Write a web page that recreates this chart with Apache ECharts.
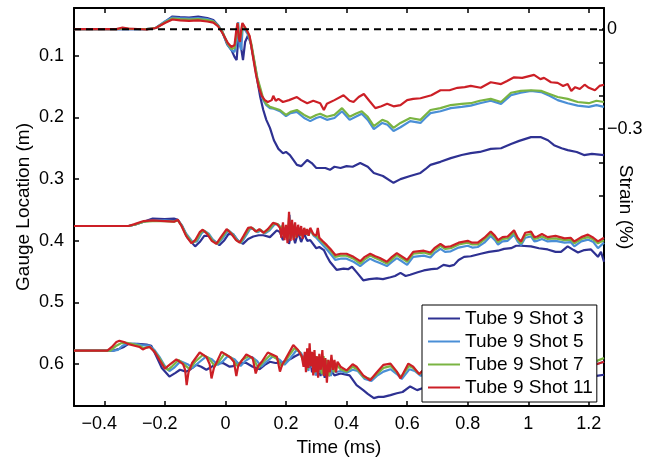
<!DOCTYPE html>
<html>
<head>
<meta charset="utf-8">
<script src="https://cdn.jsdelivr.net/npm/echarts@6/dist/echarts.min.js"></script>
<style>html,body{margin:0;padding:0;background:#fff;}#c{width:661px;height:463px;}</style>
</head>
<body>
<div id="c"></div>
<script>
// ---- data: [time (ms), gauge location (m)] ----
const shotNames = ['Tube 9 Shot 3', 'Tube 9 Shot 5', 'Tube 9 Shot 7', 'Tube 9 Shot 11'];
const shotColors = ['#2e3192', '#4a8fd6', '#7ab442', '#cc1f26'];
const xTicks = [-0.4, -0.2, 0, 0.2, 0.4, 0.6, 0.8, 1.0, 1.2];
const yTicks = [0.1, 0.2, 0.3, 0.4, 0.5, 0.6];
const strainTicks = [0, -0.1, -0.2, -0.3, -0.4, -0.5];
const strainLabels = [0, -0.3];
const zeroStrainLine = [[-0.5, 0.0572], [1.25, 0.0572]];

// Shot 3 (dark blue)
const shot3_g1 = [[-0.5,0.057],[-0.26,0.057],[-0.23,0.0551],[-0.2,0.0454],[-0.175,0.0365],[-0.15,0.0373],[-0.12,0.0381],[-0.09,0.0368],[-0.06,0.0389],[-0.04,0.0421],[-0.025,0.0502],[-0.01,0.0616],[0.005,0.081],[0.02,0.0908],[0.03,0.102],[0.037,0.107],[0.042,0.0746],[0.048,0.0632],[0.053,0.0908],[0.058,0.107],[0.065,0.0778],[0.075,0.0665],[0.085,0.0827],[0.095,0.110],[0.105,0.139],[0.115,0.167],[0.125,0.188],[0.135,0.204],[0.147,0.217],[0.16,0.237],[0.175,0.251],[0.19,0.258],[0.2,0.256],[0.213,0.261],[0.236,0.277],[0.25,0.279],[0.27,0.269],[0.285,0.274],[0.3,0.282],[0.33,0.282],[0.345,0.285],[0.36,0.280],[0.38,0.282],[0.4,0.279],[0.42,0.280],[0.445,0.274],[0.47,0.280],[0.49,0.290],[0.52,0.295],[0.555,0.306],[0.578,0.300],[0.61,0.295],[0.644,0.290],[0.66,0.284],[0.677,0.277],[0.71,0.272],[0.744,0.266],[0.78,0.261],[0.81,0.258],[0.84,0.256],[0.876,0.251],[0.91,0.250],[0.943,0.243],[0.97,0.238],[1.009,0.232],[1.042,0.232],[1.065,0.237],[1.085,0.245],[1.11,0.250],[1.13,0.253],[1.16,0.256],[1.184,0.261],[1.21,0.259],[1.25,0.261]];
const shot3_g2 = [[-0.5,0.376],[-0.32,0.376],[-0.3,0.374],[-0.27,0.369],[-0.24,0.364],[-0.2,0.365],[-0.17,0.364],[-0.157,0.366],[-0.143,0.376],[-0.125,0.395],[-0.1,0.409],[-0.085,0.402],[-0.07,0.392],[-0.055,0.392],[-0.04,0.399],[-0.02,0.407],[-0.005,0.400],[0.01,0.389],[0.025,0.389],[0.04,0.399],[0.058,0.405],[0.075,0.397],[0.092,0.393],[0.11,0.391],[0.125,0.391],[0.147,0.394],[0.17,0.383],[0.18,0.386],[0.19,0.399],[0.2,0.381],[0.21,0.405],[0.22,0.383],[0.23,0.404],[0.24,0.386],[0.25,0.402],[0.26,0.389],[0.27,0.400],[0.28,0.399],[0.3,0.412],[0.31,0.410],[0.325,0.415],[0.335,0.425],[0.345,0.434],[0.367,0.447],[0.39,0.445],[0.405,0.446],[0.418,0.442],[0.435,0.452],[0.455,0.464],[0.475,0.462],[0.5,0.461],[0.52,0.462],[0.545,0.459],[0.56,0.457],[0.578,0.452],[0.595,0.457],[0.61,0.455],[0.635,0.451],[0.655,0.448],[0.68,0.446],[0.7,0.445],[0.72,0.439],[0.74,0.441],[0.755,0.439],[0.77,0.431],[0.788,0.426],[0.81,0.425],[0.843,0.421],[0.87,0.418],[0.9,0.416],[0.92,0.413],[0.943,0.412],[0.96,0.408],[0.976,0.408],[1.009,0.409],[1.035,0.412],[1.064,0.414],[1.09,0.418],[1.108,0.418],[1.13,0.409],[1.15,0.415],[1.164,0.419],[1.185,0.415],[1.207,0.414],[1.23,0.426],[1.24,0.418],[1.25,0.434]];
const shot3_g3 = [[-0.5,0.578],[-0.37,0.578],[-0.35,0.575],[-0.335,0.572],[-0.32,0.567],[-0.29,0.567],[-0.26,0.568],[-0.245,0.570],[-0.23,0.585],[-0.21,0.606],[-0.185,0.620],[-0.165,0.614],[-0.15,0.609],[-0.13,0.612],[-0.115,0.608],[-0.096,0.601],[-0.08,0.604],[-0.063,0.609],[-0.045,0.604],[-0.03,0.599],[-0.008,0.598],[0.014,0.604],[0.025,0.603],[0.036,0.599],[0.055,0.598],[0.069,0.598],[0.09,0.604],[0.113,0.608],[0.13,0.601],[0.147,0.596],[0.165,0.598],[0.18,0.598],[0.2,0.595],[0.213,0.592],[0.23,0.587],[0.246,0.583],[0.26,0.590],[0.268,0.596],[0.275,0.606],[0.28,0.593],[0.286,0.613],[0.292,0.596],[0.3,0.618],[0.306,0.600],[0.314,0.619],[0.32,0.603],[0.328,0.622],[0.335,0.606],[0.342,0.619],[0.35,0.611],[0.36,0.618],[0.38,0.615],[0.41,0.618],[0.433,0.634],[0.455,0.642],[0.47,0.648],[0.49,0.655],[0.505,0.653],[0.522,0.653],[0.545,0.650],[0.566,0.647],[0.585,0.645],[0.61,0.636],[0.633,0.642],[0.65,0.639],[0.7,0.634],[0.75,0.635],[0.8,0.629],[0.85,0.630],[0.9,0.626],[0.95,0.627],[1.0,0.621],[1.05,0.622],[1.1,0.619],[1.15,0.621],[1.2,0.616],[1.225,0.619],[1.25,0.617]];

// Shot 5 (light blue)
const shot5_g1 = [[-0.5,0.057],[-0.26,0.057],[-0.23,0.0551],[-0.2,0.0446],[-0.175,0.0381],[-0.15,0.0389],[-0.12,0.0397],[-0.09,0.0389],[-0.06,0.0405],[-0.04,0.0437],[-0.025,0.0502],[-0.01,0.0616],[0.008,0.0827],[0.02,0.0908],[0.03,0.094],[0.038,0.0746],[0.042,0.0454],[0.047,0.0827],[0.052,0.0908],[0.057,0.0551],[0.065,0.0583],[0.075,0.0665],[0.085,0.0827],[0.095,0.110],[0.105,0.136],[0.115,0.157],[0.125,0.172],[0.135,0.180],[0.147,0.185],[0.16,0.186],[0.18,0.190],[0.2,0.198],[0.215,0.193],[0.236,0.191],[0.26,0.201],[0.28,0.206],[0.3,0.201],[0.313,0.199],[0.335,0.204],[0.36,0.201],[0.385,0.190],[0.41,0.204],[0.43,0.199],[0.45,0.194],[0.47,0.204],[0.49,0.219],[0.518,0.209],[0.535,0.212],[0.555,0.222],[0.578,0.216],[0.61,0.206],[0.644,0.209],[0.66,0.201],[0.677,0.193],[0.71,0.190],[0.744,0.185],[0.78,0.183],[0.81,0.181],[0.84,0.177],[0.876,0.173],[0.91,0.178],[0.943,0.164],[0.975,0.160],[1.009,0.157],[1.042,0.159],[1.07,0.165],[1.097,0.172],[1.13,0.177],[1.163,0.181],[1.2,0.183],[1.225,0.180],[1.25,0.183]];
const shot5_g2 = [[-0.5,0.376],[-0.32,0.376],[-0.3,0.374],[-0.27,0.369],[-0.24,0.367],[-0.2,0.367],[-0.17,0.368],[-0.157,0.367],[-0.145,0.374],[-0.13,0.388],[-0.108,0.402],[-0.094,0.401],[-0.079,0.388],[-0.069,0.384],[-0.054,0.389],[-0.039,0.400],[-0.024,0.405],[-0.009,0.396],[0.01,0.383],[0.025,0.389],[0.04,0.399],[0.053,0.403],[0.066,0.393],[0.081,0.381],[0.091,0.380],[0.106,0.386],[0.118,0.383],[0.131,0.388],[0.146,0.383],[0.163,0.373],[0.176,0.374],[0.186,0.381],[0.19,0.377],[0.196,0.394],[0.202,0.379],[0.207,0.396],[0.212,0.358],[0.217,0.395],[0.222,0.374],[0.232,0.393],[0.242,0.380],[0.252,0.391],[0.262,0.382],[0.272,0.391],[0.282,0.384],[0.292,0.392],[0.3,0.395],[0.32,0.406],[0.335,0.414],[0.35,0.423],[0.363,0.431],[0.38,0.429],[0.4,0.429],[0.423,0.434],[0.445,0.441],[0.46,0.435],[0.478,0.429],[0.495,0.433],[0.51,0.436],[0.533,0.441],[0.55,0.434],[0.566,0.428],[0.585,0.434],[0.6,0.439],[0.62,0.426],[0.655,0.424],[0.677,0.427],[0.69,0.420],[0.71,0.413],[0.725,0.418],[0.744,0.417],[0.77,0.411],[0.8,0.408],[0.815,0.411],[0.833,0.410],[0.855,0.403],[0.876,0.392],[0.89,0.399],[0.9,0.406],[0.915,0.401],[0.932,0.400],[0.953,0.390],[0.965,0.401],[0.976,0.407],[0.99,0.395],[1.009,0.393],[1.02,0.401],[1.03,0.400],[1.045,0.397],[1.064,0.401],[1.09,0.400],[1.12,0.403],[1.14,0.402],[1.152,0.409],[1.175,0.401],[1.197,0.398],[1.215,0.402],[1.23,0.412],[1.25,0.403]];
const shot5_g3 = [[-0.5,0.578],[-0.37,0.578],[-0.355,0.577],[-0.34,0.570],[-0.325,0.567],[-0.3,0.567],[-0.275,0.569],[-0.25,0.570],[-0.234,0.577],[-0.218,0.588],[-0.2,0.603],[-0.185,0.611],[-0.17,0.606],[-0.148,0.595],[-0.125,0.600],[-0.108,0.606],[-0.09,0.598],[-0.065,0.588],[-0.045,0.592],[-0.025,0.601],[-0.01,0.596],[0.007,0.587],[0.03,0.592],[0.05,0.603],[0.065,0.595],[0.087,0.588],[0.105,0.595],[0.118,0.604],[0.135,0.596],[0.158,0.587],[0.18,0.593],[0.195,0.601],[0.21,0.593],[0.235,0.577],[0.25,0.582],[0.262,0.596],[0.268,0.587],[0.274,0.611],[0.28,0.580],[0.286,0.606],[0.292,0.587],[0.298,0.618],[0.304,0.590],[0.31,0.614],[0.316,0.593],[0.322,0.618],[0.328,0.593],[0.334,0.614],[0.34,0.596],[0.348,0.619],[0.356,0.600],[0.364,0.613],[0.38,0.611],[0.4,0.614],[0.42,0.609],[0.437,0.611],[0.46,0.624],[0.482,0.627],[0.5,0.619],[0.522,0.612],[0.545,0.608],[0.566,0.616],[0.582,0.624],[0.608,0.608],[0.625,0.611],[0.645,0.619],[0.66,0.613],[0.7,0.604],[0.75,0.608],[0.8,0.601],[0.85,0.604],[0.9,0.598],[0.95,0.601],[1.0,0.595],[1.05,0.598],[1.1,0.595],[1.15,0.598],[1.2,0.595],[1.225,0.600],[1.25,0.596]];

// Shot 7 (green)
const shot7_g1 = [[-0.5,0.057],[-0.36,0.057],[-0.34,0.0559],[-0.3,0.0567],[-0.26,0.057],[-0.23,0.0551],[-0.2,0.0462],[-0.175,0.0397],[-0.15,0.0405],[-0.12,0.0413],[-0.09,0.0405],[-0.06,0.0421],[-0.04,0.0446],[-0.025,0.0511],[-0.01,0.0616],[0.008,0.081],[0.02,0.0891],[0.03,0.0875],[0.037,0.0648],[0.041,0.047],[0.046,0.0746],[0.052,0.0665],[0.057,0.0486],[0.065,0.0551],[0.075,0.0632],[0.085,0.0794],[0.095,0.107],[0.105,0.135],[0.115,0.152],[0.125,0.170],[0.135,0.178],[0.147,0.183],[0.16,0.185],[0.18,0.188],[0.2,0.196],[0.215,0.191],[0.236,0.188],[0.26,0.196],[0.28,0.201],[0.3,0.196],[0.313,0.194],[0.335,0.199],[0.36,0.196],[0.385,0.185],[0.41,0.199],[0.43,0.194],[0.45,0.190],[0.47,0.199],[0.49,0.214],[0.518,0.204],[0.535,0.207],[0.555,0.217],[0.578,0.209],[0.61,0.201],[0.644,0.204],[0.66,0.196],[0.677,0.188],[0.71,0.185],[0.744,0.180],[0.78,0.178],[0.81,0.177],[0.84,0.173],[0.876,0.170],[0.91,0.175],[0.943,0.160],[0.975,0.157],[1.009,0.156],[1.042,0.157],[1.07,0.162],[1.097,0.167],[1.13,0.170],[1.163,0.175],[1.2,0.177],[1.225,0.173],[1.25,0.175]];
const shot7_g2 = [[-0.5,0.376],[-0.32,0.376],[-0.3,0.374],[-0.27,0.369],[-0.24,0.368],[-0.2,0.368],[-0.17,0.369],[-0.157,0.367],[-0.145,0.375],[-0.13,0.390],[-0.11,0.403],[-0.097,0.400],[-0.082,0.387],[-0.072,0.383],[-0.057,0.389],[-0.042,0.400],[-0.027,0.405],[-0.012,0.395],[0.007,0.382],[0.022,0.389],[0.037,0.399],[0.05,0.403],[0.063,0.392],[0.078,0.380],[0.088,0.379],[0.103,0.385],[0.115,0.382],[0.128,0.387],[0.143,0.382],[0.16,0.372],[0.173,0.373],[0.183,0.380],[0.19,0.374],[0.195,0.395],[0.2,0.378],[0.205,0.398],[0.21,0.362],[0.215,0.397],[0.22,0.372],[0.23,0.394],[0.24,0.378],[0.25,0.392],[0.26,0.380],[0.27,0.390],[0.28,0.382],[0.29,0.390],[0.3,0.392],[0.32,0.402],[0.335,0.409],[0.35,0.418],[0.363,0.426],[0.38,0.424],[0.4,0.424],[0.423,0.429],[0.445,0.437],[0.46,0.430],[0.478,0.424],[0.495,0.428],[0.51,0.431],[0.533,0.437],[0.55,0.430],[0.566,0.423],[0.585,0.429],[0.6,0.434],[0.62,0.421],[0.655,0.419],[0.677,0.422],[0.69,0.415],[0.71,0.408],[0.725,0.413],[0.744,0.412],[0.77,0.406],[0.8,0.403],[0.815,0.406],[0.833,0.406],[0.855,0.398],[0.876,0.388],[0.89,0.395],[0.9,0.402],[0.915,0.397],[0.932,0.396],[0.953,0.386],[0.965,0.398],[0.976,0.404],[0.99,0.391],[1.009,0.389],[1.02,0.397],[1.03,0.396],[1.045,0.393],[1.064,0.397],[1.09,0.396],[1.12,0.399],[1.14,0.398],[1.152,0.404],[1.175,0.397],[1.197,0.394],[1.215,0.398],[1.23,0.404],[1.25,0.399]];
const shot7_g3 = [[-0.5,0.578],[-0.38,0.578],[-0.36,0.570],[-0.345,0.566],[-0.33,0.565],[-0.31,0.567],[-0.284,0.570],[-0.27,0.574],[-0.25,0.572],[-0.234,0.579],[-0.218,0.590],[-0.2,0.605],[-0.19,0.609],[-0.175,0.603],[-0.155,0.593],[-0.135,0.601],[-0.118,0.608],[-0.1,0.596],[-0.075,0.585],[-0.055,0.590],[-0.035,0.603],[-0.02,0.595],[-0.003,0.583],[0.02,0.590],[0.04,0.603],[0.055,0.593],[0.077,0.587],[0.095,0.593],[0.108,0.606],[0.125,0.596],[0.148,0.585],[0.172,0.592],[0.185,0.603],[0.2,0.593],[0.228,0.574],[0.245,0.580],[0.258,0.596],[0.264,0.583],[0.27,0.609],[0.276,0.577],[0.282,0.603],[0.288,0.583],[0.294,0.614],[0.3,0.587],[0.306,0.613],[0.312,0.590],[0.318,0.616],[0.324,0.587],[0.33,0.613],[0.336,0.593],[0.342,0.619],[0.35,0.596],[0.358,0.613],[0.366,0.600],[0.38,0.608],[0.4,0.612],[0.42,0.604],[0.435,0.608],[0.457,0.621],[0.48,0.624],[0.5,0.616],[0.522,0.606],[0.545,0.603],[0.566,0.613],[0.58,0.621],[0.606,0.603],[0.62,0.606],[0.64,0.616],[0.66,0.608],[0.7,0.600],[0.75,0.604],[0.8,0.596],[0.85,0.601],[0.9,0.593],[0.95,0.598],[1.0,0.590],[1.05,0.595],[1.1,0.590],[1.15,0.595],[1.2,0.590],[1.225,0.595],[1.25,0.590]];

// Shot 11 (red)
const shot11_g1 = [[-0.5,0.057],[-0.36,0.057],[-0.34,0.0543],[-0.32,0.0559],[-0.29,0.0567],[-0.26,0.0575],[-0.23,0.0551],[-0.2,0.047],[-0.175,0.0413],[-0.15,0.0429],[-0.12,0.0437],[-0.09,0.0429],[-0.06,0.0446],[-0.04,0.0465],[-0.025,0.0519],[-0.01,0.0632],[0.008,0.0794],[0.02,0.0859],[0.03,0.0827],[0.036,0.0583],[0.04,0.047],[0.044,0.0713],[0.048,0.0778],[0.052,0.0583],[0.056,0.047],[0.06,0.0502],[0.07,0.0583],[0.08,0.0681],[0.09,0.0989],[0.1,0.128],[0.11,0.151],[0.12,0.165],[0.13,0.172],[0.14,0.175],[0.153,0.172],[0.158,0.165],[0.163,0.162],[0.166,0.173],[0.175,0.170],[0.19,0.175],[0.21,0.172],[0.236,0.167],[0.25,0.172],[0.27,0.177],[0.29,0.173],[0.313,0.177],[0.325,0.188],[0.335,0.178],[0.36,0.172],[0.39,0.164],[0.41,0.173],[0.423,0.175],[0.44,0.167],[0.457,0.162],[0.475,0.173],[0.495,0.185],[0.515,0.182],[0.534,0.178],[0.555,0.182],[0.578,0.180],[0.6,0.172],[0.62,0.170],[0.644,0.169],[0.68,0.164],[0.71,0.156],[0.74,0.156],[0.766,0.152],[0.79,0.151],[0.81,0.149],[0.843,0.152],[0.876,0.143],[0.91,0.146],[0.93,0.141],[0.953,0.135],[0.98,0.136],[1.019,0.131],[1.04,0.138],[1.052,0.136],[1.075,0.143],[1.097,0.144],[1.115,0.149],[1.13,0.146],[1.142,0.157],[1.155,0.151],[1.17,0.154],[1.186,0.147],[1.2,0.152],[1.22,0.156],[1.235,0.149],[1.25,0.147]];
const shot11_g2 = [[-0.5,0.376],[-0.32,0.376],[-0.3,0.373],[-0.27,0.368],[-0.24,0.367],[-0.2,0.368],[-0.17,0.369],[-0.157,0.366],[-0.145,0.376],[-0.13,0.392],[-0.112,0.404],[-0.1,0.399],[-0.085,0.386],[-0.075,0.382],[-0.06,0.389],[-0.045,0.400],[-0.03,0.405],[-0.015,0.394],[0.004,0.381],[0.02,0.389],[0.035,0.399],[0.047,0.403],[0.06,0.392],[0.075,0.379],[0.085,0.378],[0.1,0.385],[0.112,0.381],[0.125,0.387],[0.14,0.381],[0.157,0.371],[0.17,0.373],[0.18,0.379],[0.185,0.395],[0.19,0.370],[0.195,0.399],[0.2,0.374],[0.205,0.404],[0.21,0.353],[0.215,0.400],[0.22,0.366],[0.225,0.399],[0.23,0.370],[0.235,0.395],[0.24,0.374],[0.245,0.392],[0.25,0.376],[0.255,0.397],[0.26,0.379],[0.265,0.390],[0.27,0.381],[0.275,0.392],[0.28,0.379],[0.29,0.389],[0.3,0.392],[0.305,0.379],[0.31,0.395],[0.32,0.400],[0.335,0.407],[0.35,0.415],[0.363,0.423],[0.38,0.421],[0.4,0.421],[0.423,0.426],[0.445,0.433],[0.46,0.426],[0.478,0.421],[0.495,0.425],[0.51,0.428],[0.533,0.434],[0.55,0.426],[0.566,0.420],[0.585,0.426],[0.6,0.431],[0.62,0.418],[0.655,0.416],[0.677,0.419],[0.69,0.412],[0.71,0.405],[0.725,0.410],[0.744,0.409],[0.77,0.403],[0.8,0.400],[0.815,0.403],[0.833,0.403],[0.855,0.395],[0.876,0.385],[0.89,0.392],[0.9,0.399],[0.915,0.394],[0.932,0.393],[0.953,0.383],[0.965,0.395],[0.976,0.401],[0.99,0.387],[1.009,0.385],[1.02,0.394],[1.03,0.393],[1.045,0.389],[1.064,0.394],[1.09,0.392],[1.12,0.396],[1.14,0.395],[1.152,0.401],[1.175,0.394],[1.197,0.390],[1.215,0.395],[1.23,0.401],[1.25,0.395]];
const shot11_g3 = [[-0.5,0.578],[-0.39,0.578],[-0.375,0.572],[-0.36,0.564],[-0.35,0.562],[-0.335,0.564],[-0.323,0.567],[-0.3,0.570],[-0.284,0.572],[-0.273,0.576],[-0.26,0.573],[-0.25,0.572],[-0.234,0.580],[-0.218,0.593],[-0.2,0.607],[-0.185,0.601],[-0.162,0.592],[-0.14,0.600],[-0.133,0.609],[-0.128,0.634],[-0.122,0.613],[-0.11,0.598],[-0.085,0.581],[-0.063,0.588],[-0.052,0.600],[-0.046,0.623],[-0.038,0.606],[-0.03,0.598],[-0.013,0.580],[0.014,0.588],[0.028,0.596],[0.036,0.619],[0.042,0.603],[0.047,0.599],[0.069,0.584],[0.09,0.590],[0.1,0.615],[0.108,0.603],[0.12,0.596],[0.14,0.581],[0.17,0.588],[0.18,0.612],[0.188,0.600],[0.197,0.593],[0.224,0.569],[0.24,0.577],[0.252,0.587],[0.258,0.604],[0.262,0.580],[0.266,0.613],[0.27,0.574],[0.274,0.606],[0.278,0.566],[0.282,0.603],[0.286,0.580],[0.29,0.618],[0.294,0.577],[0.298,0.613],[0.302,0.587],[0.306,0.622],[0.31,0.583],[0.315,0.609],[0.32,0.577],[0.325,0.619],[0.33,0.590],[0.335,0.630],[0.34,0.593],[0.345,0.613],[0.35,0.585],[0.355,0.609],[0.36,0.593],[0.365,0.613],[0.37,0.596],[0.38,0.604],[0.4,0.610],[0.42,0.600],[0.433,0.604],[0.455,0.618],[0.478,0.626],[0.5,0.613],[0.522,0.601],[0.545,0.599],[0.566,0.612],[0.578,0.623],[0.604,0.599],[0.62,0.604],[0.64,0.616],[0.66,0.606],[0.7,0.596],[0.75,0.603],[0.8,0.593],[0.85,0.600],[0.9,0.590],[0.95,0.596],[1.0,0.587],[1.05,0.593],[1.1,0.588],[1.15,0.595],[1.2,0.590],[1.225,0.600],[1.25,0.596]];

const traces = [
  [shot3_g1, shot3_g2, shot3_g3],
  [shot5_g1, shot5_g2, shot5_g3],
  [shot7_g1, shot7_g2, shot7_g3],
  [shot11_g1, shot11_g2, shot11_g3]
];

// ---- chart ----
const FONT = 'Liberation Sans, Arial, Helvetica, sans-serif';
const fmt = v => {
  const s = String(Math.round(v * 10) / 10);
  return v < 0 ? s.replace('-', '\u2212') + '  ' : s;
};
const fmtRight = v => String(Math.round(v * 10) / 10).replace('-', '\u2212');

const series = [];
traces.forEach((groups, i) => {
  groups.forEach(g => {
    series.push({
      name: shotNames[i], type: 'line', data: g, symbol: 'none',
      xAxisIndex: 0, yAxisIndex: 0,
      lineStyle: { color: shotColors[i], width: 2.2 },
      itemStyle: { color: shotColors[i] },
      z: 2, silent: true
    });
  });
});
series.push({
  name: 'zero', type: 'line', data: zeroStrainLine, symbol: 'none',
  lineStyle: { color: '#000', width: 2, type: [7, 5] }, z: 3, silent: true
});

const chart = echarts.init(document.getElementById('c'), null, { renderer: 'canvas' });
chart.setOption({
  animation: false,
  backgroundColor: '#fff',
  textStyle: { fontFamily: FONT, color: '#000' },
  grid: { left: 74, right: 57, top: 8, bottom: 57, containLabel: false, outerBoundsMode: 'none' },
  legend: {
    data: shotNames, orient: 'vertical', left: 422, top: 305,
    backgroundColor: '#fff', borderColor: '#000', borderWidth: 1,
    padding: [4, 4, 5, 6], itemGap: 4, itemWidth: 32, itemHeight: 2, icon: 'rect',
    textStyle: { fontFamily: FONT, fontSize: 19, color: '#000', lineHeight: 19 },
    selectedMode: false, z: 10
  },
  xAxis: [{
    type: 'value', min: -0.5, max: 1.25, position: 'bottom',
    name: 'Time (ms)', nameLocation: 'middle', nameGap: 32,
    nameTextStyle: { fontFamily: FONT, fontSize: 19, color: '#000' },
    axisLine: { onZero: false, lineStyle: { color: '#000', width: 2 } },
    axisTick: { inside: true, length: 5, lineStyle: { color: '#000', width: 1.5 }, customValues: xTicks },
    axisLabel: { fontFamily: FONT, fontSize: 18, color: '#000', margin: 9, customValues: xTicks, formatter: fmt },
    splitLine: { show: false }
  }, {
    type: 'value', min: -0.5, max: 1.25, position: 'top',
    axisLine: { onZero: false, lineStyle: { color: '#000', width: 2 } },
    axisTick: { inside: true, length: 5, lineStyle: { color: '#000', width: 1.5 }, customValues: xTicks },
    axisLabel: { show: false }, splitLine: { show: false }
  }],
  yAxis: [{
    type: 'value', min: 0.0227, max: 0.6677, inverse: true, position: 'left',
    name: 'Gauge Location (m)', nameLocation: 'middle', nameGap: 41, nameMoveOverlap: false,
    nameTextStyle: { fontFamily: FONT, fontSize: 19, color: '#000' },
    axisLine: { onZero: false, lineStyle: { color: '#000', width: 2 } },
    axisTick: { inside: true, length: 5, lineStyle: { color: '#000', width: 1.5 }, customValues: yTicks },
    axisLabel: { fontFamily: FONT, fontSize: 18, color: '#000', margin: 10, customValues: yTicks, formatter: fmtRight },
    splitLine: { show: false }
  }, {
    type: 'value', min: -1.131, max: 0.064, position: 'right',
    name: 'Strain (%)', nameLocation: 'middle', nameGap: 12, nameRotate: -90, nameMoveOverlap: false,
    nameTextStyle: { fontFamily: FONT, fontSize: 19, color: '#000' },
    axisLine: { onZero: false, lineStyle: { color: '#000', width: 2 } },
    axisTick: { inside: true, length: 5, lineStyle: { color: '#000', width: 1.5 }, customValues: strainTicks },
    axisLabel: { fontFamily: FONT, fontSize: 18, color: '#000', margin: 3, customValues: strainLabels, formatter: fmtRight },
    splitLine: { show: false }
  }],
  series: series
});
</script>
</body>
</html>
